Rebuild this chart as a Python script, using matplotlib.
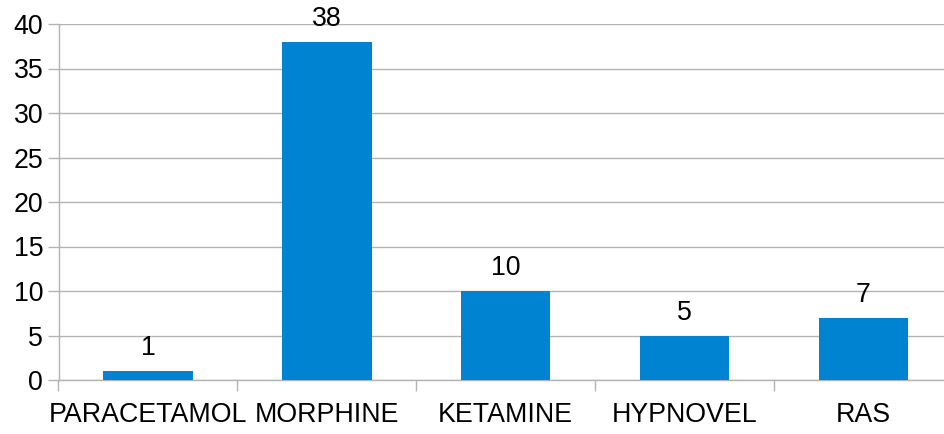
import matplotlib

matplotlib.use("Agg")
import matplotlib.pyplot as plt  # noqa: E402
import numpy as np

categories = ["PARACETAMOL", "MORPHINE", "KETAMINE", "HYPNOVEL", "RAS"]
counts = [1, 38, 10, 5, 7]
yticks = [0, 5, 10, 15, 20, 25, 30, 35, 40]

plt.rcParams["font.family"] = ["Liberation Sans", "DejaVu Sans"]

grid_color = "#b3b3b3"
bar_color = "#0083d1"
fsize = 19.3

fig = plt.figure(figsize=(9.44, 4.34), dpi=100)
# right edge of the plot area runs slightly past the image edge, as in the reference
ax = fig.add_axes([58.5 / 944, 1 - 380 / 434, (953 - 58.5) / 944, (380 - 24) / 434])

x = np.arange(len(categories))
ax.bar(x, counts, width=0.5, color=bar_color, zorder=3)
for xi, v in zip(x, counts):
    ax.annotate(str(v), (xi, v), xytext=(0, 7), textcoords="offset points",
                ha="center", va="bottom", fontsize=fsize, color="black")

ax.set_xlim(-0.5, len(categories) - 0.5)
ax.set_ylim(0, 40)
ax.set_yticks(yticks)
ax.set_yticklabels([str(t) for t in yticks])
ax.yaxis.grid(True, color=grid_color, linewidth=1.0, zorder=0)

# category labels at centres, tick marks at category boundaries
ax.set_xticks(x)
ax.set_xticklabels(categories)
ax.set_xticks(np.arange(len(categories) + 1) - 0.5, minor=True)
ax.tick_params(axis="x", which="major", length=0, pad=16, labelsize=fsize)
ax.tick_params(axis="x", which="minor", length=8, color=grid_color, width=1.0)
ax.tick_params(axis="y", length=8, color=grid_color, width=1.0, pad=3, labelsize=fsize)

for side in ["top", "right"]:
    ax.spines[side].set_visible(False)
for side in ["left", "bottom"]:
    ax.spines[side].set_color(grid_color)
    ax.spines[side].set_linewidth(1.0)

fig.savefig("out.png", dpi=100)
plt.close(fig)
